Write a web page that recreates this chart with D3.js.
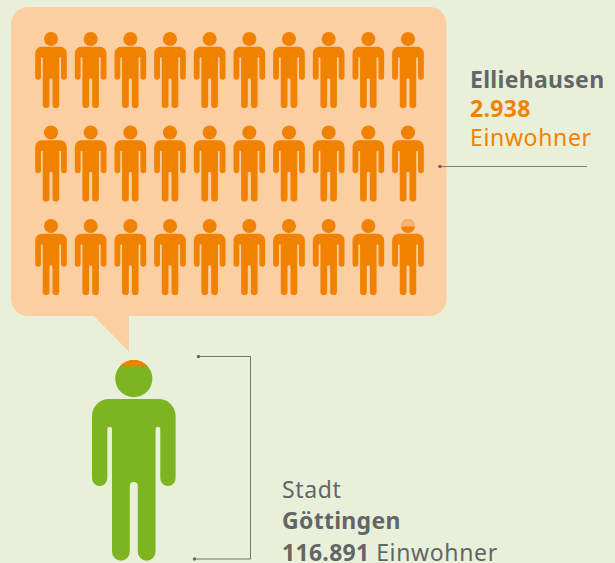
<!DOCTYPE html>
<html>
<head>
<meta charset="utf-8">
<script src="https://cdn.jsdelivr.net/npm/d3@7"></script>
<style>
  html, body { margin: 0; padding: 0; background: #e9f0d9; overflow: hidden; }
  text { font-family: "Noto Sans", sans-serif; font-size: 23px; letter-spacing: 0.65px; }
  .b { font-weight: 700; letter-spacing: 0.3px; }
</style>
</head>
<body>
<svg id="chart"></svg>
<script>
const W = 615, H = 563;

// values
const rowIdx = [0, 1, 2];
const colIdx = [0, 1, 2, 3, 4, 5, 6, 7, 8, 9];
const personsPerIcon = 100;
const elliehausen = 2938;
const goettingen = 116891;
const bigCapShare = 0.17;    // part of the big head that is orange
const smallCapShare = 0.53;  // part of the last small head that is faded

const labelRight = [
  { text: "Elliehausen", cls: "b", color: "#636567" },
  { text: "2.938", cls: "b", color: "#f18200" },
  { text: "Einwohner", cls: "", color: "#f18200" }
];

const svg = d3.select("#chart").attr("width", W).attr("height", H);
const defs = svg.append("defs");

// pictogram in units of the big figure, origin top centre of the head
const HEAD_R = 18.6, HEAD_CY = 18.6, FIG_H = 200.7;
const bodyPath = "M-24.8,39H24.8A17,17 0 0 1 41.8,56V118.35A7.65,7.65 0 0 1 26.5,118.35V69A2.35,2.35 0 0 0 21.8,69" +
  "V191.8A8.9,8.9 0 0 1 4,191.8V126A4,4 0 0 0 -4,126V191.8A8.9,8.9 0 0 1 -21.8,191.8V69A2.35,2.35 0 0 0 -26.5,69" +
  "V118.35A7.65,7.65 0 0 1 -41.8,118.35V56A17,17 0 0 1 -24.8,39Z";

function person(parent, x, y, k, color, capColor, capShare, id) {
  const g = parent.append("g").attr("transform", `translate(${x},${y}) scale(${k})`);
  g.append("path").attr("d", bodyPath).attr("fill", color);
  g.append("circle").attr("cy", HEAD_CY).attr("r", HEAD_R).attr("fill", color);
  if (capColor) {
    defs.append("clipPath").attr("id", id).append("rect")
      .attr("x", -HEAD_R).attr("y", 0).attr("width", HEAD_R * 2).attr("height", HEAD_R * 2 * capShare);
    g.append("circle").attr("cy", HEAD_CY).attr("r", HEAD_R)
      .attr("fill", capColor).attr("clip-path", `url(#${id})`);
  }
  return g;
}

svg.append("rect").attr("width", W).attr("height", H).attr("fill", "#e9f0d9");

// speech bubble
svg.append("rect").attr("x", 11).attr("y", 7).attr("width", 435.5).attr("height", 309)
  .attr("rx", 17).attr("fill", "#fccfa3");
svg.append("path").attr("d", "M93,315L129,351.7V315Z").attr("fill", "#fccfa3");

// small figures, one per 100 inhabitants
const x = d3.scalePoint().domain(colIdx).range([51, 408]);
const y = d3.scalePoint().domain(rowIdx).range([32, 219]);
const smallK = 76 / FIG_H;
const iconCount = Math.ceil(elliehausen / personsPerIcon);
const icons = d3.cross(rowIdx, colIdx).slice(0, iconCount);

icons.forEach(([r, c], i) => {
  const last = i === iconCount - 1;
  person(svg, x(c), y(r), smallK, "#f18200", last ? "#f8b373" : null, smallCapShare, "capSmall");
});

// big figure
person(svg, 133.8, 360, 1, "#7cb51f", "#f18200", bigCapShare, "capBig");

// leader lines
const gray = "#636567";
svg.append("path").attr("d", "M440,166.5H587").attr("fill", "none").attr("stroke", gray).attr("stroke-width", 0.8);
svg.append("path").attr("d", "M198,356.5H250.5V559H194").attr("fill", "none").attr("stroke", gray).attr("stroke-width", 0.9);
[[440, 166.5], [198.5, 356.5], [194.5, 559]].forEach(([cx, cy]) => {
  svg.append("circle").attr("cx", cx).attr("cy", cy).attr("r", 1.7).attr("fill", gray);
});

// labels
svg.selectAll(".right").data(labelRight).join("text")
  .attr("class", d => "right " + d.cls)
  .attr("x", 470).attr("y", (d, i) => 88 + i * 29)
  .attr("fill", d => d.color)
  .text(d => d.text);

svg.append("text").attr("x", 282).attr("y", 498).attr("fill", gray).text("Stadt");
svg.append("text").attr("x", 282).attr("y", 529).attr("fill", gray).attr("class", "b").text("Göttingen");
const t = svg.append("text").attr("x", 282).attr("y", 561).attr("fill", gray);
t.append("tspan").attr("class", "b").text("116.891");
t.append("tspan").text(" Einwohner");
</script>
</body>
</html>
